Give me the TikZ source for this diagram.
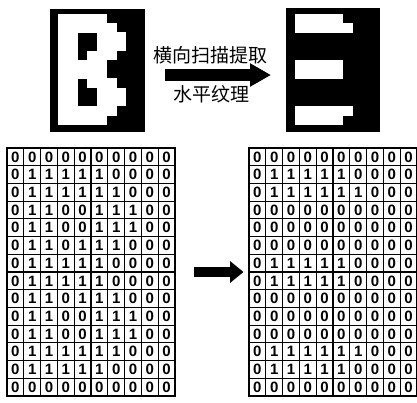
\documentclass[tikz,border=0pt]{standalone}
\usepackage{fontspec}
\newfontfamily\cjkfont{Noto Sans CJK SC}
\newfontfamily\numfont{Liberation Sans}
\usetikzlibrary{arrows.meta}
\def\gridA{{0,0,0,0,0,0,0,0,0,0},{0,1,1,1,1,1,0,0,0,0},{0,1,1,1,1,1,1,0,0,0},{0,1,1,0,0,1,1,1,0,0},{0,1,1,0,0,1,1,1,0,0},{0,1,1,0,1,1,1,0,0,0},{0,1,1,1,1,1,0,0,0,0},{0,1,1,1,1,1,0,0,0,0},{0,1,1,0,1,1,1,0,0,0},{0,1,1,0,0,1,1,1,0,0},{0,1,1,0,0,1,1,1,0,0},{0,1,1,1,1,1,1,0,0,0},{0,1,1,1,1,1,0,0,0,0},{0,0,0,0,0,0,0,0,0,0}}
\def\gridB{{0,0,0,0,0,0,0,0,0,0},{0,1,1,1,1,1,0,0,0,0},{0,1,1,1,1,1,1,0,0,0},{0,0,0,0,0,0,0,0,0,0},{0,0,0,0,0,0,0,0,0,0},{0,0,0,0,0,0,0,0,0,0},{0,1,1,1,1,1,0,0,0,0},{0,1,1,1,1,1,0,0,0,0},{0,0,0,0,0,0,0,0,0,0},{0,0,0,0,0,0,0,0,0,0},{0,0,0,0,0,0,0,0,0,0},{0,1,1,1,1,1,1,0,0,0},{0,1,1,1,1,1,0,0,0,0},{0,0,0,0,0,0,0,0,0,0}}
\def\gcw{16.8}
\def\grh{17.72}
\def\gtop{148}
\newcommand\drawnumgrid[3]{%
  \foreach \rowdata [count=\r from 0] in #1 {
    \foreach \v [count=\c from 0] in \rowdata {
      \node[cellnum] (#3-\r-\c) at ({#2+(\c+0.5)*\gcw},{\gtop+(\r+0.5)*\grh}) {\v};
    }
  }
  \foreach \c in {1,...,9}
    \draw[gridline] ({#2+\c*\gcw},\gtop) -- ({#2+\c*\gcw},{\gtop+14*\grh});
  \foreach \r in {1,...,13}
    \draw[gridline] (#2,{\gtop+\r*\grh}) -- ({#2+10*\gcw},{\gtop+\r*\grh});
  \draw[gridframe] (#2,\gtop) rectangle ({#2+10*\gcw},{\gtop+14*\grh});
}
\newcommand\drawpix[3]{%
  \foreach \rowdata [count=\r from 0] in #1 {
    \foreach \v [count=\c from 0] in \rowdata {
      \ifnum\v=1
        \fill[white] ({#2+\c*#3-0.25},{14+(\r-1)*9.22-0.25}) rectangle ({#2+(\c+1)*#3+0.25},{14+\r*9.22+0.25});
      \fi
    }
  }
}
\begin{document}
\begin{tikzpicture}[x=1bp,y=-1bp,
  cellnum/.style={font=\numfont\bfseries\fontsize{15bp}{15bp}\selectfont, inner sep=0pt, anchor=center},
  gridline/.style={line width=1.1bp, black},
  gridframe/.style={line width=2.6bp, black},
  pixbox/.style={fill=black, inner sep=0pt, anchor=north west},
  cjklabel/.style={font=\cjkfont\fontsize{19bp}{19bp}\selectfont, inner sep=0pt, anchor=base},
  bigarrow/.style={line width=12bp, -{Triangle[width=22bp,length=21bp]}},
  midarrow/.style={line width=10bp, -{Triangle[width=21bp,length=13.5bp]}}
]
\useasboundingbox (0,0) rectangle (417,403);
% top images
\node[pixbox, minimum width=95bp, minimum height=123bp] (imgB) at (50,8.5) {};
\drawpix{\gridA}{48.6}{9.7}
\node[pixbox, minimum width=94bp, minimum height=124bp] (imgE) at (286,8) {};
\drawpix{\gridB}{285.4}{9.6}
% top arrow and labels
\coordinate (t1) at (165,75);
\coordinate (t2) at (271,75);
\draw[bigarrow] (t1) -- (t2);
\node[cjklabel] (lab1) at (210,62.5) {横向扫描提取};
\node[cjklabel] (lab2) at (211,101.5) {水平纹理};
% grids
\drawnumgrid{\gridA}{7}{L}
\drawnumgrid{\gridB}{249}{R}
% middle arrow
\coordinate (m1) at (194,272);
\coordinate (m2) at (243.5,272);
\draw[midarrow] (m1) -- (m2);
\end{tikzpicture}
\end{document}
